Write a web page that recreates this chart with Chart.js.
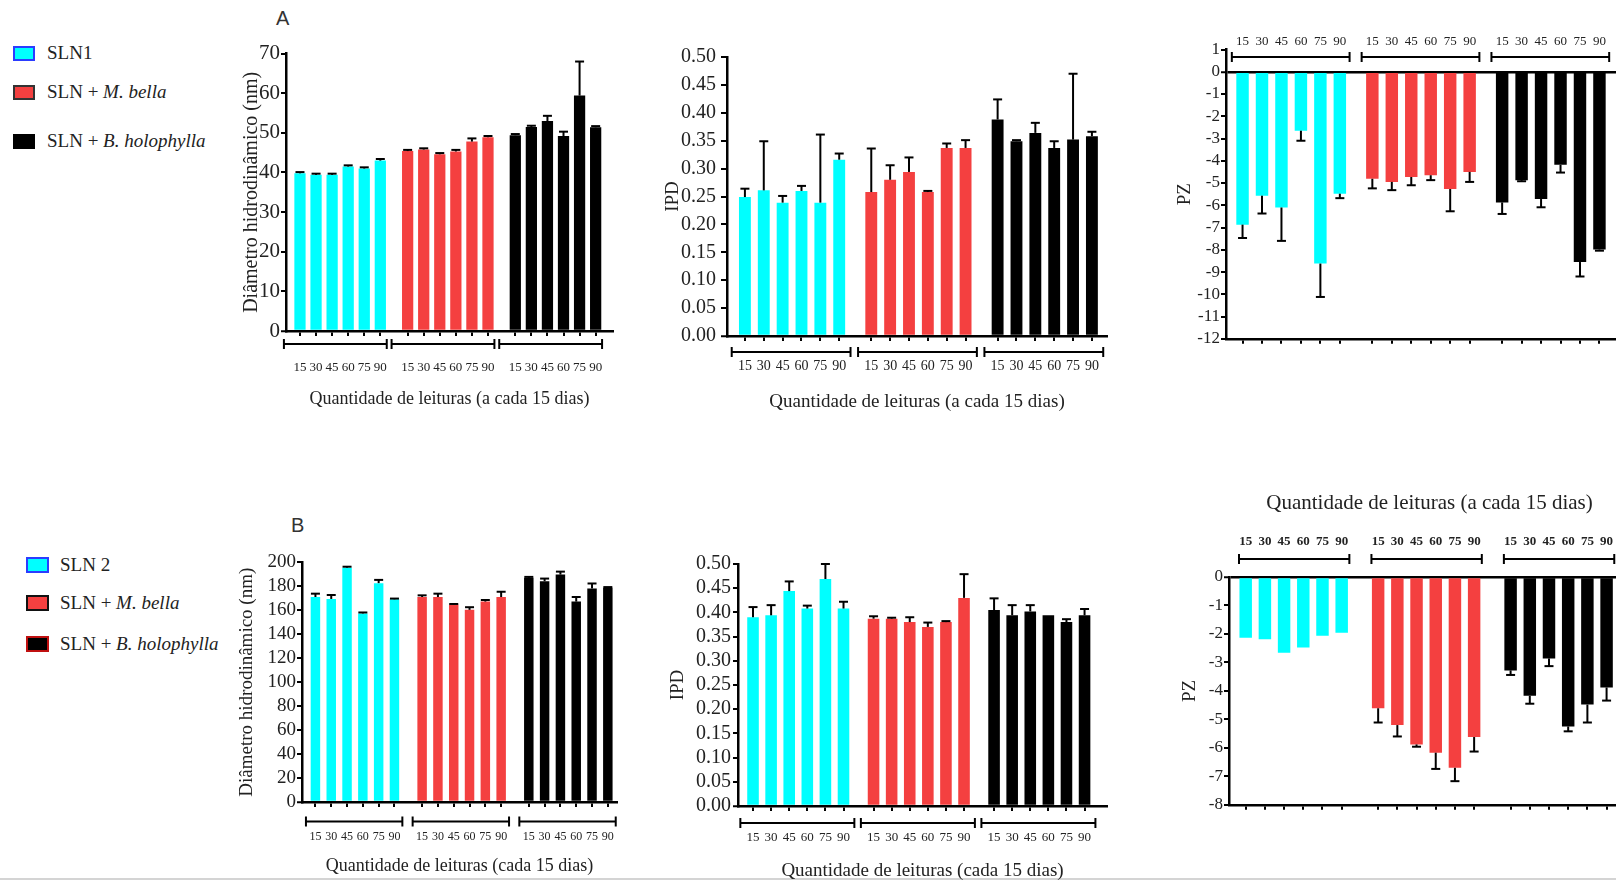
<!DOCTYPE html>
<html>
<head>
<meta charset="utf-8">
<script src="https://cdn.jsdelivr.net/npm/chart.js@4/dist/chart.umd.min.js"></script>
<style>
body{margin:0;width:1616px;height:881px;overflow:hidden;background:#fff;position:relative;font-family:"Liberation Serif","Times New Roman",serif;color:#222}
.leg{position:absolute;display:flex;align-items:center;white-space:nowrap}
.leg .b{display:inline-block;box-sizing:border-box;border:2px solid}
.tag{position:absolute;font-family:"Liberation Sans",Arial,sans-serif;font-size:20px;color:#333}
#foot{position:absolute;left:0;top:878px;width:1616px;height:2px;background:#d4d4d4}
</style>
</head>
<body>
<div class="tag" style="left:276px;top:7px">A</div>
<div class="tag" style="left:291px;top:514px">B</div>

<div class="leg" style="left:13px;top:42px;font-size:19px"><span class="b" style="width:22px;height:15px;background:#00ffff;border-color:#2b3cff;margin-right:12px"></span><span>SLN1</span></div>
<div class="leg" style="left:13px;top:81px;font-size:19px"><span class="b" style="width:22px;height:15px;background:#f44040;border-color:#333;margin-right:12px"></span><span>SLN + <i>M. bella</i></span></div>
<div class="leg" style="left:13px;top:130px;font-size:19px"><span class="b" style="width:22px;height:15px;background:#000;border-color:#000;margin-right:12px"></span><span>SLN + <i>B. holophylla</i></span></div>

<div class="leg" style="left:26px;top:554px;font-size:19px"><span class="b" style="width:23px;height:16px;background:#00ffff;border-color:#2b3cff;margin-right:11px"></span><span>SLN 2</span></div>
<div class="leg" style="left:26px;top:592px;font-size:19px"><span class="b" style="width:23px;height:16px;background:#f44040;border-color:#111;margin-right:11px"></span><span>SLN + <i>M. bella</i></span></div>
<div class="leg" style="left:26px;top:633px;font-size:19px"><span class="b" style="width:23px;height:16px;background:#000;border-color:#c01010;margin-right:11px"></span><span>SLN + <i>B. holophylla</i></span></div>

<div id="foot"></div>

<script>
// readings every 15 days
const days = ['15', '30', '45', '60', '75', '90'];
const groupsA = ['SLN1', 'SLN + M. bella', 'SLN + B. holophylla'];
const groupsB = ['SLN 2', 'SLN + M. bella', 'SLN + B. holophylla'];
const colours = ['#00ffff', '#f44040', '#000000'];

// A - hydrodynamic diameter (nm)
const diamA = [
  [39.8, 39.4, 39.4, 41.5, 41.0, 43.0],
  [45.4, 45.8, 44.6, 45.3, 47.8, 48.9],
  [49.4, 51.5, 53.0, 49.2, 59.4, 51.4]
];
const diamAErr = [
  [0.3, 0.3, 0.3, 0.3, 0.3, 0.4],
  [0.3, 0.3, 0.3, 0.4, 0.8, 0.3],
  [0.3, 0.3, 1.3, 1.1, 8.6, 0.3]
];
// A - IPD
const ipdA = [
  [0.249, 0.261, 0.239, 0.260, 0.239, 0.316],
  [0.258, 0.280, 0.294, 0.258, 0.337, 0.337],
  [0.388, 0.349, 0.364, 0.337, 0.352, 0.358]
];
const ipdAErr = [
  [0.015, 0.088, 0.012, 0.009, 0.122, 0.011],
  [0.078, 0.026, 0.026, 0.002, 0.008, 0.014],
  [0.036, 0.002, 0.018, 0.012, 0.118, 0.008]
];
// A - PZ
const pzA = [
  [-6.87, -5.57, -6.10, -2.65, -8.62, -5.48],
  [-4.81, -4.95, -4.73, -4.65, -5.27, -4.50],
  [-5.87, -4.87, -5.72, -4.18, -8.55, -7.99]
];
const pzAErr = [
  [0.6, 0.8, 1.5, 0.45, 1.5, 0.2],
  [0.43, 0.37, 0.37, 0.22, 1.0, 0.45],
  [0.52, 0.05, 0.37, 0.35, 0.65, 0.05]
];
// B - hydrodynamic diameter (nm)
const diamB = [
  [171.1, 169.5, 195.6, 157.4, 182.7, 169.2],
  [171.1, 171.1, 164.8, 160.4, 167.3, 171.1],
  [187.1, 184.3, 189.8, 167.3, 178.3, 178.8]
];
const diamBErr = [
  [2.8, 3.3, 0.8, 0.8, 2.7, 0.6],
  [1.4, 2.8, 0.5, 2.2, 1.3, 4.4],
  [0.8, 2.2, 2.5, 3.8, 4.1, 0.6]
];
// B - IPD
const ipdB = [
  [0.390, 0.394, 0.444, 0.408, 0.469, 0.408],
  [0.387, 0.387, 0.380, 0.370, 0.380, 0.430],
  [0.405, 0.394, 0.402, 0.394, 0.380, 0.394]
];
const ipdBErr = [
  [0.021, 0.021, 0.020, 0.006, 0.031, 0.014],
  [0.005, 0.002, 0.010, 0.009, 0.002, 0.049],
  [0.024, 0.021, 0.013, 0, 0.006, 0.013]
];
// B - PZ
const pzB = [
  [-2.13, -2.19, -2.66, -2.48, -2.06, -1.96],
  [-4.61, -5.20, -5.88, -6.17, -6.70, -5.62],
  [-3.28, -4.17, -2.86, -5.25, -4.48, -3.88]
];
const pzBErr = [
  [0, 0, 0, 0, 0, 0],
  [0.5, 0.4, 0.08, 0.57, 0.47, 0.51],
  [0.16, 0.28, 0.27, 0.17, 0.63, 0.46]
];

Chart.defaults.font.family = '"Liberation Serif", "Times New Roman", serif';
Chart.defaults.color = '#222';

// error bars + group brackets
const extras = {
  id: 'extras',
  afterDatasetsDraw(chart, args, o) {
    const {ctx, chartArea} = chart;
    const x = chart.scales.x, y = chart.scales.y;
    ctx.save();
    ctx.strokeStyle = '#000';
    ctx.lineWidth = 2;
    const line = (x1, y1, x2, y2) => { ctx.beginPath(); ctx.moveTo(x1, y1); ctx.lineTo(x2, y2); ctx.stroke(); };
    chart.data.datasets.forEach(ds => {
      ds.data.forEach((pt, i) => {
        const e = ds.err[i];
        if (!e) return;
        const px = x.getPixelForValue(pt.x);
        const y0 = y.getPixelForValue(pt.y);
        const y1 = y.getPixelForValue(pt.y + Math.sign(pt.y) * e);
        line(px, y0, px, y1);
        line(px - 4.5, y1, px + 4.5, y1);
      });
      const a = x.getPixelForValue(ds.data[0].x - o.bl);
      const b = x.getPixelForValue(ds.data[ds.data.length - 1].x + o.br);
      const by = (o.top ? chartArea.top : chartArea.bottom) + o.by;
      line(a, by, b, by);
      line(a, by - 5, a, by + 5);
      line(b, by - 5, b, by + 5);
    });
    ctx.restore();
  }
};

function makeChart(o) {
  const cv = document.createElement('canvas');
  cv.width = o.box[2];
  cv.height = o.box[3];
  Object.assign(cv.style, {position: 'absolute', left: o.box[0] + 'px', top: o.box[1] + 'px',
    width: o.box[2] + 'px', height: o.box[3] + 'px'});
  document.body.appendChild(cv);

  const at = (g, i) => g * o.gap + i;
  const tickVals = [];
  for (let g = 0; g < 3; g++) for (let i = 0; i < days.length; i++) tickVals.push(at(g, i));
  const setTicks = s => { s.ticks = tickVals.map(v => ({value: v})); };
  const dayLabel = (v, i) => days[i % days.length];
  // fixed axis size, and no extra side room for the edge labels
  const fitX = h => s => { s.height = h; s.paddingLeft = 0; s.paddingRight = 0; };

  const datasets = o.values.map((vals, g) => ({
    label: o.groups[g],
    data: vals.map((v, i) => ({x: at(g, i), y: v})),
    err: o.errors[g],
    backgroundColor: colours[g],
    grouped: false,
    categoryPercentage: 1,
    barPercentage: o.barFrac
  }));

  const scales = {
    x: {
      type: 'linear', position: 'bottom', min: o.xMin, max: o.xMax, offset: false,
      afterBuildTicks: setTicks,
      afterFit: fitX(o.xH),
      grid: {display: true, offset: false, drawOnChartArea: false, drawTicks: true, tickLength: 5, color: '#000', lineWidth: 2},
      border: {display: true, color: '#000', width: 2.5},
      ticks: {display: !o.pz, autoSkip: false, maxRotation: 0, padding: o.xPad || 0,
        font: {size: o.xFont || 12}, color: '#222', callback: dayLabel},
      title: {display: !o.pz, text: o.xTitle, font: {size: o.xTitleSize || 18}, color: '#222', padding: 0}
    },
    y: {
      min: o.yMin, max: o.yMax, position: 'left',
      afterFit: s => { s.width = o.yW; },
      ticks: {stepSize: o.step, autoSkip: false, padding: o.yPad, font: {size: o.yFont}, color: '#222',
        callback: v => o.dec ? v.toFixed(o.dec) : Math.round(v)},
      grid: {drawOnChartArea: !!o.pz, drawTicks: true, tickLength: o.yTick || 5, tickWidth: 2, tickColor: '#000',
        color: c => c.tick && Math.abs(c.tick.value) < 1e-9 ? '#000' : 'rgba(0,0,0,0)',
        lineWidth: c => c.tick && Math.abs(c.tick.value) < 1e-9 ? 2.5 : 0},
      border: {color: '#000', width: 2.5},
      title: {display: true, text: o.yTitle, font: {size: o.yTitleSize || 19}, color: '#222', padding: 0}
    }
  };
  if (o.pz) {
    scales.x2 = {
      type: 'linear', axis: 'x', position: 'top', min: o.xMin, max: o.xMax, offset: false,
      afterBuildTicks: setTicks,
      afterFit: fitX(o.x2H),
      grid: {display: false, drawTicks: false},
      border: {display: false},
      ticks: {autoSkip: false, maxRotation: 0, padding: o.x2Pad,
        font: {size: o.x2Font, weight: o.x2Bold ? 'bold' : 'normal'}, color: '#222', callback: dayLabel},
      title: {display: !!o.topTitle, text: o.topTitle || '', font: {size: 21}, color: '#222', padding: 0}
    };
  }

  return new Chart(cv, {
    type: 'bar',
    data: {datasets},
    options: {
      responsive: false,
      animation: false,
      devicePixelRatio: 1,
      layout: {padding: {top: o.padT, right: 4, left: 0, bottom: 0}},
      plugins: {
        legend: {display: false},
        tooltip: {enabled: false},
        extras: {top: !!o.pz, by: o.brY, bl: o.bl, br: o.br}
      },
      scales
    },
    plugins: [extras]
  });
}

// A row
makeChart({box: [240, 40, 377, 370], padT: 13, yW: 46, xH: 79,
  values: diamA, errors: diamAErr, groups: groupsA, gap: 6.7, barFrac: 0.7,
  xMin: -0.87, xMax: 19.48, xPad: 24, xFont: 13,
  xTitle: 'Quantidade de leituras (a cada 15 dias)', xTitleSize: 18,
  yMin: 0, yMax: 70, step: 10, yFont: 21, yPad: 1,
  yTitle: 'Diâmetro hidrodinâmico (nm)', yTitleSize: 20,
  brY: 13, bl: 1.0, br: 0.4});

makeChart({box: [662, 40, 449, 373], padT: 14, yW: 65, xH: 77,
  values: ipdA, errors: ipdAErr, groups: groupsA, gap: 6.7, barFrac: 0.63,
  xMin: -0.95, xMax: 19.2, xPad: 17, xFont: 14,
  xTitle: 'Quantidade de leituras (a cada 15 dias)', xTitleSize: 19,
  yMin: 0, yMax: 0.5, step: 0.05, dec: 2, yFont: 20, yPad: 5, yTick: 6,
  yTitle: 'IPD', yTitleSize: 19,
  brY: 16, bl: 0.7, br: 0.6});

makeChart({box: [1174, 30, 460, 320], padT: 0, yW: 52, xH: 8.5, pz: true,
  x2H: 19.5, x2Pad: 0, x2Font: 13,
  values: pzA, errors: pzAErr, groups: groupsA, gap: 6.67, barFrac: 0.64,
  xMin: -0.85, xMax: 19.91,
  yMin: -12, yMax: 1, step: 1, yFont: 17, yPad: 1,
  yTitle: 'PZ', yTitleSize: 19,
  brY: 7.5, bl: 0.55, br: 0.5});

// B row
makeChart({box: [236, 550, 385, 327], padT: 12, yW: 66, xH: 75,
  values: diamB, errors: diamBErr, groups: groupsB, gap: 6.75, barFrac: 0.6,
  xMin: -0.85, xMax: 19.08, xPad: 23, xFont: 12,
  xTitle: 'Quantidade de leituras (cada 15 dias)', xTitleSize: 18,
  yMin: 0, yMax: 200, step: 20, yFont: 19, yPad: 1,
  yTitle: 'Diâmetro hidrodinâmico (nm)', yTitleSize: 19,
  brY: 19.5, bl: 0.6, br: 0.5});

makeChart({box: [667, 550, 444, 332], padT: 13.5, yW: 71, xH: 76,
  values: ipdB, errors: ipdBErr, groups: groupsB, gap: 6.66, barFrac: 0.64,
  xMin: -0.83, xMax: 19.56, xPad: 19, xFont: 13,
  xTitle: 'Quantidade de leituras (cada 15 dias)', xTitleSize: 19,
  yMin: 0, yMax: 0.5, step: 0.05, dec: 2, yFont: 20, yPad: 2,
  yTitle: 'IPD', yTitleSize: 19,
  brY: 17, bl: 0.7, br: 0.6});

makeChart({box: [1179, 491, 455, 325], padT: 0, yW: 50, xH: 10, pz: true,
  x2H: 86, x2Pad: 28, x2Font: 13, x2Bold: true,
  topTitle: 'Quantidade de leituras (a cada 15 dias)',
  values: pzB, errors: pzBErr, groups: groupsB, gap: 6.9, barFrac: 0.65,
  xMin: -0.87, xMax: 20.02,
  yMin: -8, yMax: 0, step: 1, yFont: 17, yPad: 1,
  yTitle: 'PZ', yTitleSize: 19,
  brY: -18, bl: 0.35, br: 0.4});
</script>
</body>
</html>
